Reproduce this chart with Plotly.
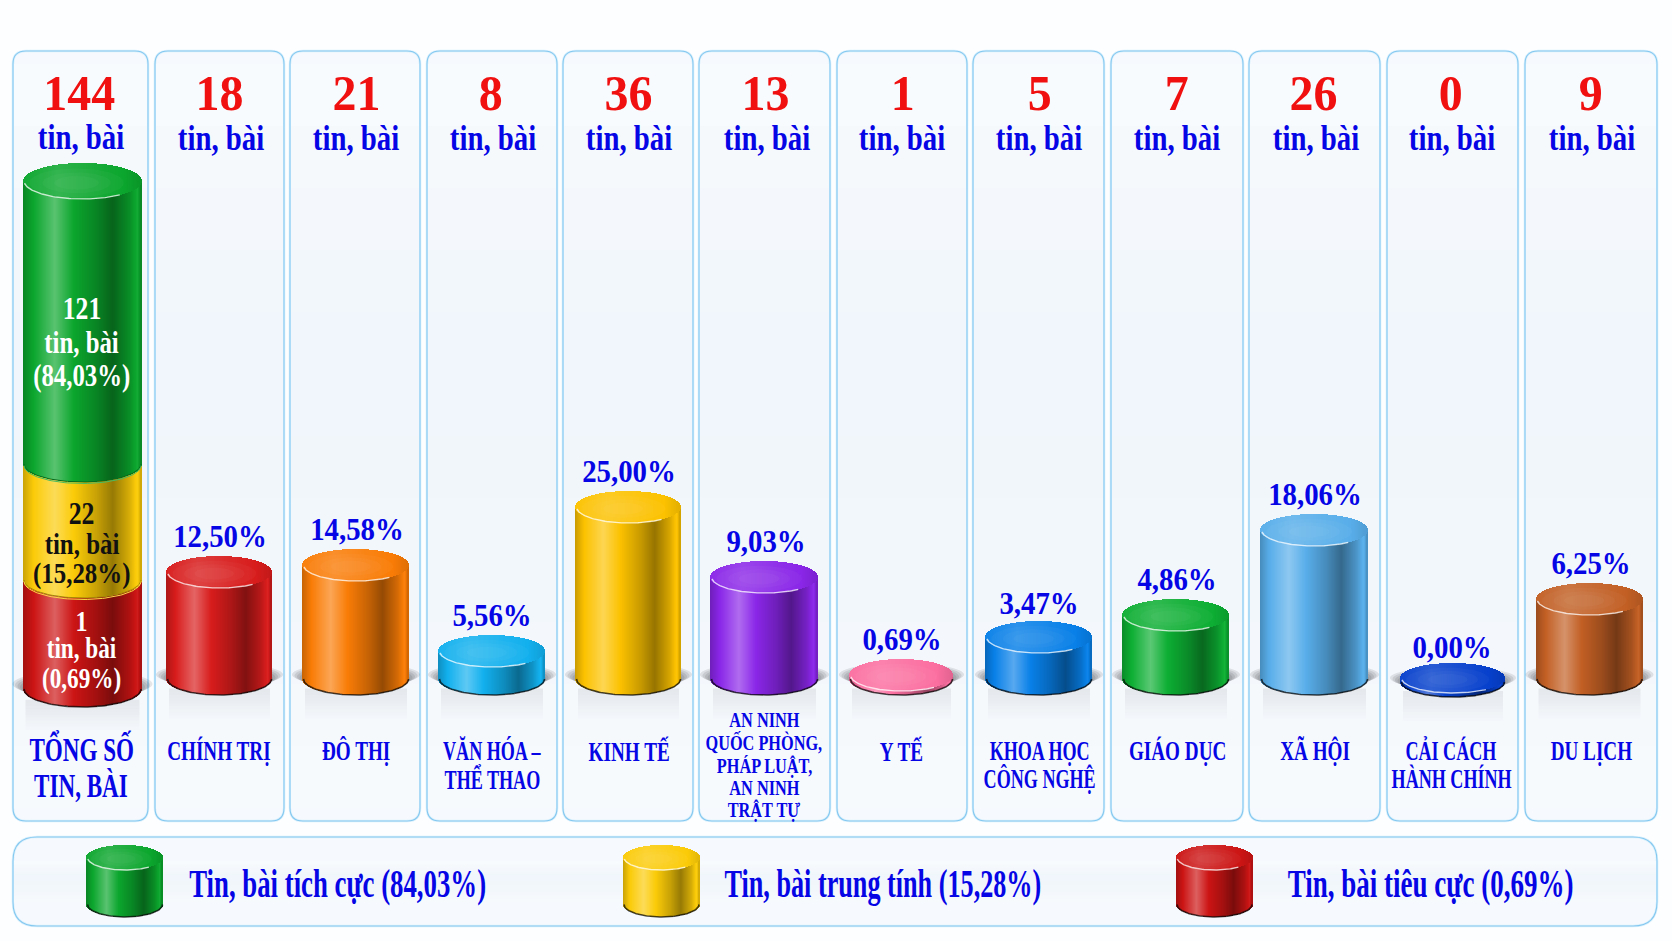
import json
import math
import plotly.graph_objects as go

# ---------- data ----------
categories = ["TỔNG SỐ|TIN, BÀI", "CHÍNH TRỊ", "ĐÔ THỊ", "VĂN HÓA –|THỂ THAO", "KINH TẾ",
              "AN NINH|QUỐC PHÒNG,|PHÁP LUẬT,|AN NINH|TRẬT TỰ", "Y TẾ", "KHOA HỌC|CÔNG NGHỆ",
              "GIÁO DỤC", "XÃ HỘI", "CẢI CÁCH|HÀNH CHÍNH", "DU LỊCH"]
counts = [144, 18, 21, 8, 36, 13, 1, 5, 7, 26, 0, 9]
percent_labels = [None, "12,50%", "14,58%", "5,56%", "25,00%", "9,03%", "0,69%", "3,47%", "4,86%",
                  "18,06%", "0,00%", "6,25%"]
# heights of the cylinders as they are drawn in the picture (not proportional to the counts)
drawn_heights = [None, 107, 114, 28, 172, 102, 4, 42, 64, 149, 4, 80]

stack_names = ["Tin, bài tiêu cực", "Tin, bài trung tính", "Tin, bài tích cực"]
stack_counts = [1, 22, 121]
stack_percent = ["0,69%", "15,28%", "84,03%"]
stack_drawn_tops = [109, 225, 508]

# ---------- layout and style ----------
W, H = 1672, 941
ZERO = 679  # pixel row of value 0


def Y(px):
    return ZERO - px


panels = [(13, 148), (155, 284), (290, 420), (427, 557), (563, 693), (699, 830), (837, 967), (973, 1104),
          (1111, 1243), (1249, 1380), (1387, 1518), (1525, 1657)]
centers = [82.5, 219.5, 356, 492, 628.5, 764.5, 901.5, 1039, 1176, 1314.5, 1453, 1589.5]
radii = [59, 52.5, 53, 53, 52.5, 53.5, 51.5, 53, 53, 53.5, 52, 53]
cap_half = [18, 16, 16, 16, 16, 16, 16, 16, 16, 16, 15, 16]
base_shift = [-10, 0, 0, 0, 0, 0, 0, 0, 0, 0, -3, 0]
count_x = [79.5, 219.5, 356, 490.5, 628, 765.5, 903, 1039.5, 1177, 1313.5, 1451, 1591]
unit_x = [81, 220.5, 356, 492.5, 629, 766.5, 902, 1038.5, 1177, 1315.5, 1452, 1592]
pct_x = [0, 220, 356.5, 492, 629, 765.5, 902, 1039, 1176.5, 1315, 1452, 1591]
pct_gap = [0, 20, 20, 20, 20, 20, 20, 18, 20, 20, 16, 20]
cat_x = [81, 219, 356, 492, 629, 764, 901, 1039, 1177, 1315, 1451, 1591]
colors = [None, "#d81c1c", "#f97c06", "#12b0ee", "#fcc200", "#8a26e8", "#fb6ea0", "#0880e8", "#0dae33",
          "#58aeea", "#0640cc", "#c25f24"]
stack_colors = ["#cc1414", "#fbcb08", "#0ba62d"]
BLUE, RED = "#0505e6", "#f01010"
FONT = "Liberation Serif"

shapes, annotations, stretch, traces = [], [], [], []


def mix(c, k):
    """k>0 mixes with white, k<0 with black."""
    r, g, b = int(c[1:3], 16), int(c[3:5], 16), int(c[5:7], 16)
    t = 255 if k > 0 else 0
    a = abs(k)
    return "rgb(%d,%d,%d)" % tuple(round(v + (t - v) * a) for v in (r, g, b))


def profile(t, stops):
    for (t0, k0), (t1, k1) in zip(stops, stops[1:]):
        if t <= t1:
            return k0 + (k1 - k0) * (t - t0) / (t1 - t0)
    return stops[-1][1]


BODY = [(0, -.2), (.08, -.02), (.27, .32), (.43, .0), (.62, -.2), (.76, -.4), (.9, -.15), (.97, .04), (1, -.2)]
CAP = [(0, .03), (.3, .14), (.6, .06), (.85, .0), (1, -.1)]


def ellipse_pts(cx, cy, rx, ry, a0=0.0, a1=2 * math.pi, n=72):
    xs, ys = [], []
    for i in range(n + 1):
        a = a0 + (a1 - a0) * i / n
        xs.append(cx + rx * math.cos(a))
        ys.append(cy + ry * math.sin(a))
    return xs, ys


def cylinder(cx, r, b, zero, segs, ground=True):
    """segs: list of (bottom, top, colour); values measured above the cylinder's own zero."""
    n = int(2 * r)
    dxs = [-r + (i + .5) * (2 * r / n) for i in range(n)]
    ss = [math.sqrt(max(0, 1 - (d / r) ** 2)) for d in dxs]
    ts = [(d + r) / (2 * r) for d in dxs]
    if ground:
        for k in range(5):
            shapes.append(dict(type="circle", layer="below", line_width=0, fillcolor="rgba(20,20,30,0.10)",
                               x0=cx - r - 11 + k * 2.5, x1=cx + r + 11 - k * 2.5,
                               y0=zero - b * .45 - k, y1=zero + b * 1.0 - k))
        for k in range(10):
            shapes.append(dict(type="rect", layer="below", line_width=0,
                               fillcolor="rgba(120,120,130,%.3f)" % (.13 * (1 - k / 10)),
                               x0=cx - r + 2, x1=cx + r - 2,
                               y0=zero - b * .6 - 3 * k, y1=zero - b * .6 - 3 * (k + 1)))
    for bot, top, col in segs:
        traces.append(go.Bar(x=[cx + d for d in dxs], base=[zero + bot - b * s for s in ss],
                             y=[top - bot] * n, width=1.6,
                             marker=dict(color=[mix(col, profile(t, BODY)) for t in ts], line_width=0),
                             hoverinfo="skip", showlegend=False))
        xs, ys = ellipse_pts(cx, zero + bot, r - .5, b, math.pi, 2 * math.pi)
        traces.append(go.Scatter(x=xs, y=ys, mode="lines", hoverinfo="skip", showlegend=False,
                                 line=dict(color="rgba(10,10,10,.75)" if bot == segs[0][0] else mix(col, -.35),
                                           width=1.6 if bot == segs[0][0] else 1)))
    top, col = segs[-1][1], segs[-1][2]
    traces.append(go.Bar(x=[cx + d for d in dxs], base=[zero + top - b * s for s in ss],
                         y=[2 * b * s for s in ss], width=1.6,
                         marker=dict(color=[mix(col, profile(t, CAP)) for t in ts], line_width=0),
                         hoverinfo="skip", showlegend=False))
    for f in (.8, .58, .38):
        xs, ys = ellipse_pts(cx - r * .1, zero + top - b * .1, r * f, b * f)
        traces.append(go.Scatter(x=xs, y=ys, mode="lines", fill="toself", line_width=0, hoverinfo="skip",
                                 fillcolor="rgba(255,255,255,.03)", showlegend=False))
    xs, ys = ellipse_pts(cx, zero + top, r - .5, b, math.pi * 1.04, math.pi * 1.72)
    traces.append(go.Scatter(x=xs, y=ys, mode="lines", hoverinfo="skip", showlegend=False,
                             line=dict(color="rgba(255,255,255,.75)", width=1.4)))
    for bot, _, col in segs[1:]:
        xs, ys = ellipse_pts(cx, zero + bot, r - .5, b, math.pi, 2 * math.pi)
        traces.append(go.Scatter(x=xs, y=[v - 1.5 for v in ys], mode="lines", hoverinfo="skip", showlegend=False,
                                 line=dict(color=mix(col, .25), width=1)))


def rrect(x0, y0, x1, y1, r):
    a0, a1 = Y(y0), Y(y1)
    return (f"M{x0 + r},{a0} L{x1 - r},{a0} Q{x1},{a0} {x1},{Y(y0 + r)} L{x1},{Y(y1 - r)} Q{x1},{a1} {x1 - r},{a1} "
            f"L{x0 + r},{a1} Q{x0},{a1} {x0},{Y(y1 - r)} L{x0},{Y(y0 + r)} Q{x0},{a0} {x0 + r},{a0} Z")


def panel(x0, y0, x1, y1, r):
    shapes.append(dict(type="path", path=rrect(x0, y0, x1, y1, r), layer="below", fillcolor="#f6fafe",
                       line=dict(color="#dcf1fc", width=2.6)))
    nb = 12
    for i in range(nb):
        f = (i + .5) / nb
        k = profile(f, [(0, 0), (.35, 1), (.7, .75), (1, .25)])
        c = "rgb(%d,%d,%d)" % (250 - 10 * k, 252 - 6 * k, 254 - 3 * k)
        shapes.append(dict(type="rect", layer="below", line_width=0, fillcolor=c, x0=x0 + 1, x1=x1 - 1,
                           y0=Y(y0 + r + (y1 - y0 - 2 * r) * i / nb),
                           y1=Y(y0 + r + (y1 - y0 - 2 * r) * (i + 1) / nb + .5)))
    shapes.append(dict(type="path", path=rrect(x0, y0, x1, y1, r), layer="below", fillcolor="rgba(0,0,0,0)",
                       line=dict(color="#84c8f0", width=1.1)))


def T(text, x, py, size, color, sx, weight=700):
    annotations.append(dict(text=text, x=x, y=Y(py), showarrow=False, xanchor="center", yanchor="middle",
                            font=dict(family=FONT, size=size, color=color, weight=weight)))
    stretch.append(sx)


for p in panels:
    panel(p[0], 51, p[1], 821, 13)
panel(13, 837, 1657, 926, 24)

# first column: stacked cylinder
tops = stack_drawn_tops
cylinder(centers[0], radii[0], cap_half[0], base_shift[0],
         [(0, tops[0], stack_colors[0]), (tops[0], tops[1], stack_colors[1]), (tops[1], tops[2], stack_colors[2])])
# other columns
for i in range(1, 12):
    cylinder(centers[i], radii[i], cap_half[i], base_shift[i], [(0, drawn_heights[i], colors[i])])

# count headers
for i in range(12):
    T(str(counts[i]), count_x[i], 93, 51, RED, .94)
    T("tin, bài", unit_x[i], 137 if i == 0 else 138, 36, BLUE, .8)

# percentages above bars
for i in range(1, 12):
    top_px = ZERO - base_shift[i] - drawn_heights[i] - cap_half[i]
    T(percent_labels[i], pct_x[i], top_px - pct_gap[i], 32, BLUE, .9)

# stacked labels
lab_rows = [(620, 648, 678, 29, "#ffffff", .8, 700), (513, 543, 573, 30, "#111111", .83, 700),
            (308, 342, 375, 31, "#ffffff", .8, 700)]
for (r1, r2, r3, size, col, sx, w), c, pc in zip(lab_rows, stack_counts, stack_percent):
    T(str(c), centers[0] - 1, r1, size + 1, col, sx, w)
    T("tin, bài", centers[0] - 1, r2, size, col, sx, w)
    T(f"({pc})", centers[0] - 1, r3, size, col, sx, w)

# category labels, one annotation per line for the tight leading
for i, cat in enumerate(categories):
    lines = cat.split("|")
    n = len(lines)
    if i == 0:
        rows, size, sx = [749, 786], 33, .7
    elif n == 5:
        rows, size, sx = [719, 742, 765, 787, 809], 22, .74
    elif n == 2:
        rows, size, sx = [751, 779], 27, .67
    else:
        rows, size, sx = [751], 27, .71
    for ln, r in zip(lines, rows):
        T(ln, cat_x[i], r, size, BLUE, sx)

# legend
legend_x = [125, 661.5, 1214.5]
legend_text_x = [337, 882.5, 1430]
legend_sx = [.67, .655, .675]
for j, src in enumerate((2, 1, 0)):
    col = stack_colors[src]
    cylinder(legend_x[j], 38, 12.5, Y(904.5), [(0, 47, col)], ground=False)
    T(f"{stack_names[src]} ({stack_percent[src]})", legend_text_x[j], 883, 40, BLUE, legend_sx[j], 700)

fig = go.Figure(traces)
fig.update_layout(width=W, height=H, margin=dict(l=0, r=0, t=0, b=0), barmode="overlay", bargap=0,
                  paper_bgcolor="#fdfeff", plot_bgcolor="rgba(0,0,0,0)", showlegend=False,
                  shapes=shapes, annotations=annotations, font=dict(family=FONT),
                  xaxis=dict(range=[0, W], visible=False, fixedrange=True),
                  yaxis=dict(range=[Y(H), Y(0)], visible=False, fixedrange=True))

post = """
document.body.style.margin='0';document.body.style.overflow='hidden';
var gd=document.getElementById('{plot_id}');var sx=%s;
function squeeze(){document.querySelectorAll('.annotation').forEach(function(a){
 var i=+a.getAttribute('data-index');var t=a.querySelector('.annotation-text');if(!t||!sx[i])return;
 var x=parseFloat(t.getAttribute('x'));
 t.setAttribute('transform','translate('+x+',0) scale('+sx[i]+',1) translate('+(-x)+',0)');});}
squeeze();gd.on('plotly_afterplot',squeeze);
""" % json.dumps(stretch)
fig.write_html("out.html", post_script=post, config=dict(displayModeBar=False))
